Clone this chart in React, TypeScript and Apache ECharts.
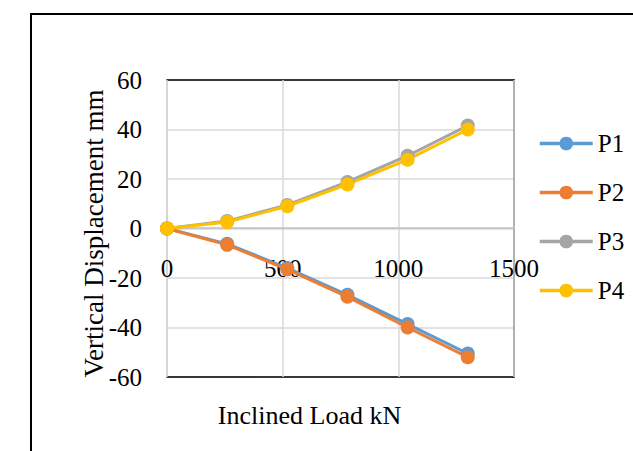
import React, { useEffect, useRef } from "react";
import * as echarts from "echarts";

const loads = [0, 260, 520, 780, 1040, 1300];
const p1 = [0, -6.2, -16, -26.8, -38.6, -50.5];
const p2 = [0, -6.6, -16.5, -27.6, -40.0, -52.0];
const p3 = [0, 3.0, 9.5, 18.8, 29.4, 41.6];
const p4 = [0, 2.6, 9.0, 17.8, 27.8, 40.0];
const seriesNames = ["P1", "P2", "P3", "P4"];
const seriesColors = ["#5B9BD5", "#ED7D31", "#A5A5A5", "#FFC000"];
const xTicks = { min: 0, max: 1500, interval: 500 };
const yTicks = { min: -60, max: 60, interval: 20 };

const FONT = "'Liberation Serif', 'Times New Roman', serif";
const FS = 25;

export default function App() {
  const ref = useRef<HTMLDivElement>(null);
  useEffect(() => {
    if (!ref.current) return;
    const chart = echarts.init(ref.current, undefined, { renderer: "svg" });
    const all = [p1, p2, p3, p4];
    const frameX = (position: string) => ({
      type: "value",
      position,
      min: xTicks.min,
      max: xTicks.max,
      interval: xTicks.interval,
      axisLine: { show: true, onZero: false, lineStyle: { color: "#000", width: 1.5 } },
      axisTick: { show: false },
      axisLabel: { show: false },
      splitLine: { show: false },
    });
    chart.setOption({
      animation: false,
      backgroundColor: "#ffffff",
      textStyle: { fontFamily: FONT },
      graphic: [
        {
          type: "rect",
          shape: { x: 31, y: 14, width: 800, height: 600 },
          style: { fill: "none", stroke: "#000", lineWidth: 2 },
          silent: true,
        },
      ],
      grid: {
        left: 167,
        top: 80,
        width: 347,
        height: 297,
        show: false,
        containLabel: false,
        outerBoundsMode: "none",
      },
      legend: {
        orient: "vertical",
        left: 533,
        top: 126,
        itemWidth: 53,
        itemHeight: 17,
        itemGap: 24,
        data: seriesNames,
        lineStyle: { width: 3.5 },
        textStyle: { fontFamily: FONT, fontSize: FS, color: "#000", lineHeight: 25 },
      },
      xAxis: [
        {
          type: "value",
          position: "bottom",
          offset: -149,
          min: xTicks.min,
          max: xTicks.max,
          interval: xTicks.interval,
          name: "Inclined Load kN",
          nameLocation: "middle",
          nameGap: 174,
          nameMoveOverlap: false,
          nameTextStyle: {
            fontFamily: FONT,
            fontSize: 26,
            color: "#000",
            padding: [0, 62, 0, 0],
          },
          axisLine: { onZero: false, lineStyle: { color: "#BFBFBF", width: 1.5 } },
          axisTick: { show: false },
          axisLabel: {
            margin: 28,
            fontFamily: FONT,
            fontSize: FS,
            color: "#000",
            formatter: (v: number) => String(v),
          },
          splitLine: { show: true, lineStyle: { color: "#D9D9D9", width: 1.5 } },
          z: 1,
        },
        frameX("top"),
        frameX("bottom"),
      ],
      yAxis: [
        {
          type: "value",
          position: "left",
          min: yTicks.min,
          max: yTicks.max,
          interval: yTicks.interval,
          name: "Vertical Displacement mm",
          nameLocation: "middle",
          nameGap: 60,
          nameMoveOverlap: false,
          nameRotate: 90,
          nameTextStyle: {
            fontFamily: FONT,
            fontSize: 27,
            color: "#000",
            padding: [0, 10, 0, 0],
          },
          axisLine: { show: true, onZero: false, lineStyle: { color: "#BFBFBF", width: 1.5 } },
          axisTick: { show: false },
          axisLabel: {
            margin: 25,
            fontFamily: FONT,
            fontSize: FS,
            color: "#000",
            formatter: (v: number) => String(v),
          },
          splitLine: { show: true, lineStyle: { color: "#D9D9D9", width: 1.5 } },
        },
        {
          type: "value",
          position: "right",
          min: yTicks.min,
          max: yTicks.max,
          interval: yTicks.interval,
          axisLine: { show: true, onZero: false, lineStyle: { color: "#000", width: 1.5 } },
          axisTick: { show: false },
          axisLabel: { show: false },
          splitLine: { show: false },
        },
      ],
      series: seriesNames.map((name, i) => ({
        name,
        type: "line",
        xAxisIndex: 0,
        yAxisIndex: 0,
        data: loads.map((x, j) => [x, all[i][j]]),
        symbol: "circle",
        symbolSize: 14,
        color: seriesColors[i],
        lineStyle: { width: 3, color: seriesColors[i] },
        itemStyle: { color: seriesColors[i] },
        z: 5,
      })),
    });
    return () => chart.dispose();
  }, []);
  return (
    <div
      ref={ref}
      style={{ position: "fixed", left: 0, top: 0, width: 633, height: 451 }}
    />
  );
}
